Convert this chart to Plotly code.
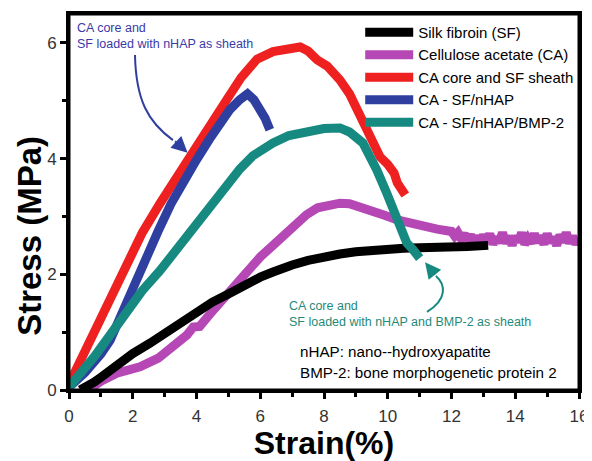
import plotly.graph_objects as go

# ---- data ----
sf_x = [0.35, 0.5, 0.8, 1.0, 1.5, 2.0, 2.54, 3.0, 3.5, 4.1, 4.5, 5.0, 5.36, 5.7, 6.0, 6.4, 6.7, 7.0, 7.5, 7.97, 8.5, 9.0, 9.55, 10.0, 10.5, 11.0, 11.55, 12.05, 12.5, 13.15]
sf_y = [0.0, 0.04, 0.14, 0.22, 0.43, 0.63, 0.81, 0.98, 1.17, 1.38, 1.52, 1.66, 1.78, 1.87, 1.95, 2.04, 2.11, 2.16, 2.24, 2.30, 2.35, 2.39, 2.42, 2.44, 2.45, 2.46, 2.46, 2.46, 2.48, 2.50]

ca_x = [0.6, 1.0, 1.5, 2.23, 2.8, 3.3, 3.7, 3.9, 4.1, 4.4, 4.8, 5.15, 5.6, 6.0, 6.4, 6.84, 7.2, 7.45, 7.8, 8.2, 8.5, 8.8, 9.2, 9.55, 9.9, 10.3, 10.7, 11.1, 11.55,
        12.0, 12.1, 12.2, 12.3, 12.4, 12.5, 12.6, 12.7, 12.8, 12.9, 13.0, 13.1, 13.2, 13.3, 13.4, 13.5, 13.6, 13.7, 13.8, 13.9,
        14.0, 14.1, 14.2, 14.3, 14.4, 14.5, 14.6, 14.7, 14.8, 14.9, 15.0, 15.1, 15.2, 15.3, 15.4, 15.5, 15.6, 15.7, 15.8, 15.9, 16.0]
ca_y = [0.0, 0.15, 0.29, 0.40, 0.55, 0.75, 0.95, 1.09, 1.10, 1.30, 1.55, 1.78, 2.05, 2.30, 2.50, 2.72, 2.92, 3.03, 3.15, 3.21, 3.23, 3.22, 3.16, 3.10, 3.02, 2.94, 2.88, 2.82, 2.78,
        2.74, 2.66, 2.72, 2.62, 2.70, 2.58, 2.68, 2.55, 2.66, 2.52, 2.68, 2.56, 2.70, 2.52, 2.64, 2.55, 2.72, 2.54, 2.66, 2.50,
        2.66, 2.56, 2.72, 2.52, 2.62, 2.54, 2.70, 2.55, 2.66, 2.52, 2.70, 2.55, 2.64, 2.50, 2.68, 2.56, 2.72, 2.54, 2.66, 2.52, 2.64]

core_x = [0.0, 0.3, 0.75, 1.3, 1.82, 2.3, 2.85, 3.3, 3.73, 4.42, 4.95, 5.4, 5.9, 6.4, 6.8, 7.25, 7.5, 7.78, 8.1, 8.5, 8.8, 9.0, 9.3, 9.55, 9.76, 10.0, 10.2, 10.3, 10.55]
core_y = [0.10, 0.45, 0.99, 1.62, 2.20, 2.72, 3.22, 3.62, 3.98, 4.62, 5.02, 5.40, 5.72, 5.85, 5.90, 5.93, 5.86, 5.71, 5.60, 5.36, 5.12, 4.90, 4.60, 4.33, 4.03, 3.90, 3.75, 3.58, 3.37]

nhap_x = [0.0, 0.5, 1.0, 1.29, 1.8, 2.32, 2.8, 3.2, 3.6, 4.0, 4.4, 4.74, 5.05, 5.36, 5.6, 5.8, 6.0, 6.15, 6.3]
nhap_y = [0.05, 0.30, 0.62, 0.86, 1.50, 2.20, 2.75, 3.22, 3.62, 3.98, 4.33, 4.62, 4.85, 5.02, 5.12, 5.02, 4.85, 4.70, 4.50]

bmp_x = [0.0, 0.4, 0.8, 1.38, 1.82, 2.3, 2.85, 3.4, 4.0, 4.5, 5.0, 5.36, 5.77, 6.1, 6.4, 6.9, 7.45, 8.0, 8.5, 8.8, 9.22, 9.45, 9.66, 9.97, 10.3, 10.6, 10.8, 11.0]
bmp_y = [0.05, 0.30, 0.58, 1.02, 1.36, 1.72, 2.06, 2.44, 2.86, 3.25, 3.60, 3.82, 4.05, 4.18, 4.27, 4.40, 4.47, 4.52, 4.53, 4.46, 4.27, 4.05, 3.80, 3.40, 2.94, 2.54, 2.42, 2.28]

names = ["Silk fibroin (SF)", "Cellulose acetate (CA)", "CA core and SF sheath", "CA - SF/nHAP", "CA - SF/nHAP/BMP-2"]
colors = ["#000000", "#b548b5", "#ee2020", "#2f3f9f", "#168a80"]

x_ticks = [0, 2, 4, 6, 8, 10, 12, 14, 16]
y_ticks = [0, 2, 4, 6]

series = [(ca_x, ca_y, 1), (sf_x, sf_y, 0), (core_x, core_y, 2), (nhap_x, nhap_y, 3), (bmp_x, bmp_y, 4)]

fig = go.Figure()
for xs, ys, i in series:
    fig.add_trace(go.Scatter(x=xs, y=ys, mode="lines", name=names[i], legendrank=i + 1,
                             line=dict(color=colors[i], width=9)))

BASE = "Liberation Sans, Arial, sans-serif"

axis_common = dict(showline=True, linewidth=3, linecolor="black", mirror=True, automargin=False,
                   showgrid=False, zeroline=False, ticks="outside", ticklen=6, tickwidth=2.5,
                   tickcolor="black", tickfont=dict(family=BASE, size=17, color="#333333"),
                   minor=dict(ticks="outside", ticklen=4, tickwidth=2.5, tickcolor="black", dtick=1, showgrid=False))

# the page body adds an 8px offset, so the figure is 8px smaller than the window
fig.update_layout(
    width=584, height=453,
    margin=dict(l=61, r=13, t=6, b=71, autoexpand=False),
    paper_bgcolor="white", plot_bgcolor="white",
    xaxis=dict(range=[0, 16], tickvals=x_ticks, ticklabelstandoff=3, **axis_common,
               title=dict(text="<b>Strain(%)</b>", font=dict(family=BASE, size=32, color="black"), standoff=9)),
    yaxis=dict(range=[0, 6.5], tickvals=y_ticks, **axis_common),
    legend=dict(x=0.571, y=0.995, xanchor="left", yanchor="top", bgcolor="rgba(0,0,0,0)",
                font=dict(family=BASE, size=15, color="black"), itemwidth=48, tracegroupgap=0),
    showlegend=True,
)

# frame around the plotting area
fig.add_shape(type="rect", xref="paper", yref="paper", x0=0, x1=1, y0=0, y1=1,
              line=dict(color="black", width=3), layer="above")

# y-axis title (placed lower than axis centre, as in the reference)
fig.add_annotation(x=0, y=0.41, xref="paper", yref="paper", xshift=-39, xanchor="center", yanchor="middle",
                   text="<b>Stress (MPa)</b>", textangle=-90, showarrow=False,
                   font=dict(family=BASE, size=33, color="black"))

# annotations
fig.add_annotation(x=0.2, y=6.42, xref="x", yref="y", xanchor="left", yanchor="top", align="left",
                   text="CA core and<br>SF loaded with nHAP as sheath", showarrow=False,
                   font=dict(family=BASE, size=12.5, color="#3a3aa8"))
fig.add_annotation(x=6.84, y=1.61, xref="x", yref="y", xanchor="left", yanchor="top", align="left",
                   text="CA core and<br>SF loaded with nHAP and BMP-2 as sheath", showarrow=False,
                   font=dict(family=BASE, size=12.5, color="#1f8a7a"))
fig.add_annotation(x=7.18, y=0.66, xref="x", yref="y", xanchor="left", yanchor="middle",
                   text="nHAP: nano--hydroxyapatite", showarrow=False,
                   font=dict(family=BASE, size=15.2, color="black"))
fig.add_annotation(x=7.18, y=0.31, xref="x", yref="y", xanchor="left", yanchor="middle",
                   text="BMP-2: bone morphogenetic protein 2", showarrow=False,
                   font=dict(family=BASE, size=15.2, color="black"))

# curved arrows
fig.add_shape(type="path", xref="x", yref="y", path="M 2.07,5.79 C 2.10,5.01 2.48,4.63 3.26,4.32",
              line=dict(color="#2f3f9f", width=2))
fig.add_annotation(x=3.72, y=4.10, xref="x", yref="y", ax=-14, ay=-13, text="", showarrow=True,
                   arrowhead=2, arrowsize=1.6, arrowwidth=2, arrowcolor="#2f3f9f")
fig.add_shape(type="path", xref="x", yref="y", path="M 11.23,1.35 C 11.86,1.56 11.83,1.82 11.51,1.97",
              line=dict(color="#168a80", width=2))
fig.add_annotation(x=11.17, y=2.21, xref="x", yref="y", ax=11, ay=14, text="", showarrow=True,
                   arrowhead=2, arrowsize=1.6, arrowwidth=2, arrowcolor="#168a80")

fig.write_html("out.html")
